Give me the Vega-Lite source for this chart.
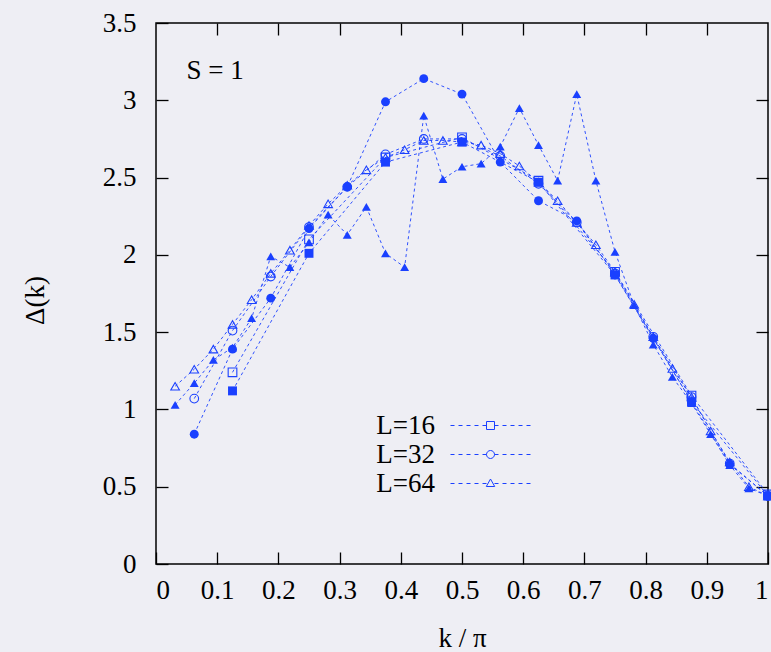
{
  "$schema": "https://vega.github.io/schema/vega-lite/v6.json",
  "width": 612,
  "height": 541,
  "autosize": "none",
  "padding": {"left": 156, "top": 23, "right": 3, "bottom": 88},
  "background": "#eeeef4",
  "config": {
    "view": {"stroke": "black", "strokeWidth": 1.5},
    "font": "Liberation Serif",
    "axis": {
      "labelFont": "Liberation Serif", "titleFont": "Liberation Serif",
      "labelFontSize": 27, "titleFontSize": 27, "titleFontWeight": "normal",
      "labelColor": "black", "titleColor": "black", "tickColor": "black",
      "domain": false, "grid": false, "tickSize": -12, "tickWidth": 1.3
    },
    "legend": {"labelFont": "Liberation Serif", "labelFontSize": 27, "labelColor": "black"}
  },
  "datasets": {
    "pts": [
      {"L": "L=16", "t": "o", "k": 0.125, "d": 1.24},
      {"L": "L=16", "t": "o", "k": 0.25, "d": 2.10},
      {"L": "L=16", "t": "o", "k": 0.375, "d": 2.63},
      {"L": "L=16", "t": "o", "k": 0.5, "d": 2.76},
      {"L": "L=16", "t": "o", "k": 0.625, "d": 2.48},
      {"L": "L=16", "t": "o", "k": 0.75, "d": 1.89},
      {"L": "L=16", "t": "o", "k": 0.875, "d": 1.09},
      {"L": "L=16", "t": "o", "k": 1.0, "d": 0.45},
      {"L": "L=16", "t": "f", "k": 0.125, "d": 1.12},
      {"L": "L=16", "t": "f", "k": 0.25, "d": 2.01},
      {"L": "L=16", "t": "f", "k": 0.375, "d": 2.60},
      {"L": "L=16", "t": "f", "k": 0.5, "d": 2.73},
      {"L": "L=16", "t": "f", "k": 0.625, "d": 2.47},
      {"L": "L=16", "t": "f", "k": 0.75, "d": 1.87},
      {"L": "L=16", "t": "f", "k": 0.875, "d": 1.05},
      {"L": "L=16", "t": "f", "k": 1.0, "d": 0.44},
      {"L": "L=32", "t": "o", "k": 0.0625, "d": 1.07},
      {"L": "L=32", "t": "o", "k": 0.125, "d": 1.51},
      {"L": "L=32", "t": "o", "k": 0.1875, "d": 1.86},
      {"L": "L=32", "t": "o", "k": 0.25, "d": 2.18},
      {"L": "L=32", "t": "o", "k": 0.3125, "d": 2.44},
      {"L": "L=32", "t": "o", "k": 0.375, "d": 2.65},
      {"L": "L=32", "t": "o", "k": 0.4375, "d": 2.75},
      {"L": "L=32", "t": "o", "k": 0.5, "d": 2.75},
      {"L": "L=32", "t": "o", "k": 0.5625, "d": 2.64},
      {"L": "L=32", "t": "o", "k": 0.625, "d": 2.46},
      {"L": "L=32", "t": "o", "k": 0.6875, "d": 2.21},
      {"L": "L=32", "t": "o", "k": 0.75, "d": 1.88},
      {"L": "L=32", "t": "o", "k": 0.8125, "d": 1.47},
      {"L": "L=32", "t": "o", "k": 0.875, "d": 1.08},
      {"L": "L=32", "t": "o", "k": 0.9375, "d": 0.65},
      {"L": "L=32", "t": "o", "k": 1.0, "d": 0.44},
      {"L": "L=32", "t": "f", "k": 0.0625, "d": 0.84},
      {"L": "L=32", "t": "f", "k": 0.125, "d": 1.39},
      {"L": "L=32", "t": "f", "k": 0.1875, "d": 1.72},
      {"L": "L=32", "t": "f", "k": 0.25, "d": 2.17},
      {"L": "L=32", "t": "f", "k": 0.3125, "d": 2.44},
      {"L": "L=32", "t": "f", "k": 0.375, "d": 2.99},
      {"L": "L=32", "t": "f", "k": 0.4375, "d": 3.14},
      {"L": "L=32", "t": "f", "k": 0.5, "d": 3.04},
      {"L": "L=32", "t": "f", "k": 0.5625, "d": 2.60},
      {"L": "L=32", "t": "f", "k": 0.625, "d": 2.35},
      {"L": "L=32", "t": "f", "k": 0.6875, "d": 2.22},
      {"L": "L=32", "t": "f", "k": 0.75, "d": 1.87},
      {"L": "L=32", "t": "f", "k": 0.8125, "d": 1.46},
      {"L": "L=32", "t": "f", "k": 0.875, "d": 1.05},
      {"L": "L=32", "t": "f", "k": 0.9375, "d": 0.645},
      {"L": "L=32", "t": "f", "k": 1.0, "d": 0.44},
      {"L": "L=64", "t": "o", "k": 0.03125, "d": 1.15},
      {"L": "L=64", "t": "o", "k": 0.0625, "d": 1.26},
      {"L": "L=64", "t": "o", "k": 0.09375, "d": 1.39},
      {"L": "L=64", "t": "o", "k": 0.125, "d": 1.55},
      {"L": "L=64", "t": "o", "k": 0.15625, "d": 1.71},
      {"L": "L=64", "t": "o", "k": 0.1875, "d": 1.88},
      {"L": "L=64", "t": "o", "k": 0.21875, "d": 2.03},
      {"L": "L=64", "t": "o", "k": 0.25, "d": 2.19},
      {"L": "L=64", "t": "o", "k": 0.28125, "d": 2.33},
      {"L": "L=64", "t": "o", "k": 0.3125, "d": 2.45},
      {"L": "L=64", "t": "o", "k": 0.34375, "d": 2.55},
      {"L": "L=64", "t": "o", "k": 0.375, "d": 2.63},
      {"L": "L=64", "t": "o", "k": 0.40625, "d": 2.68},
      {"L": "L=64", "t": "o", "k": 0.4375, "d": 2.74},
      {"L": "L=64", "t": "o", "k": 0.46875, "d": 2.74},
      {"L": "L=64", "t": "o", "k": 0.5, "d": 2.73},
      {"L": "L=64", "t": "o", "k": 0.53125, "d": 2.71},
      {"L": "L=64", "t": "o", "k": 0.5625, "d": 2.655},
      {"L": "L=64", "t": "o", "k": 0.59375, "d": 2.575},
      {"L": "L=64", "t": "o", "k": 0.625, "d": 2.47},
      {"L": "L=64", "t": "o", "k": 0.65625, "d": 2.35},
      {"L": "L=64", "t": "o", "k": 0.6875, "d": 2.21},
      {"L": "L=64", "t": "o", "k": 0.71875, "d": 2.065},
      {"L": "L=64", "t": "o", "k": 0.75, "d": 1.89},
      {"L": "L=64", "t": "o", "k": 0.78125, "d": 1.68},
      {"L": "L=64", "t": "o", "k": 0.8125, "d": 1.47},
      {"L": "L=64", "t": "o", "k": 0.84375, "d": 1.265},
      {"L": "L=64", "t": "o", "k": 0.875, "d": 1.08},
      {"L": "L=64", "t": "o", "k": 0.90625, "d": 0.86},
      {"L": "L=64", "t": "o", "k": 0.9375, "d": 0.66},
      {"L": "L=64", "t": "o", "k": 0.96875, "d": 0.50},
      {"L": "L=64", "t": "o", "k": 1.0, "d": 0.44},
      {"L": "L=64", "t": "f", "k": 0.03125, "d": 1.03},
      {"L": "L=64", "t": "f", "k": 0.0625, "d": 1.17},
      {"L": "L=64", "t": "f", "k": 0.09375, "d": 1.32},
      {"L": "L=64", "t": "f", "k": 0.125, "d": 1.40},
      {"L": "L=64", "t": "f", "k": 0.15625, "d": 1.59},
      {"L": "L=64", "t": "f", "k": 0.1875, "d": 1.99},
      {"L": "L=64", "t": "f", "k": 0.21875, "d": 1.92},
      {"L": "L=64", "t": "f", "k": 0.25, "d": 2.08},
      {"L": "L=64", "t": "f", "k": 0.28125, "d": 2.26},
      {"L": "L=64", "t": "f", "k": 0.3125, "d": 2.13},
      {"L": "L=64", "t": "f", "k": 0.34375, "d": 2.31},
      {"L": "L=64", "t": "f", "k": 0.375, "d": 2.01},
      {"L": "L=64", "t": "f", "k": 0.40625, "d": 1.92},
      {"L": "L=64", "t": "f", "k": 0.4375, "d": 2.90},
      {"L": "L=64", "t": "f", "k": 0.46875, "d": 2.49},
      {"L": "L=64", "t": "f", "k": 0.5, "d": 2.57},
      {"L": "L=64", "t": "f", "k": 0.53125, "d": 2.59},
      {"L": "L=64", "t": "f", "k": 0.5625, "d": 2.70},
      {"L": "L=64", "t": "f", "k": 0.59375, "d": 2.95},
      {"L": "L=64", "t": "f", "k": 0.625, "d": 2.71},
      {"L": "L=64", "t": "f", "k": 0.65625, "d": 2.48},
      {"L": "L=64", "t": "f", "k": 0.6875, "d": 3.04},
      {"L": "L=64", "t": "f", "k": 0.71875, "d": 2.48},
      {"L": "L=64", "t": "f", "k": 0.75, "d": 2.02},
      {"L": "L=64", "t": "f", "k": 0.78125, "d": 1.675},
      {"L": "L=64", "t": "f", "k": 0.8125, "d": 1.42},
      {"L": "L=64", "t": "f", "k": 0.84375, "d": 1.21},
      {"L": "L=64", "t": "f", "k": 0.875, "d": 1.04},
      {"L": "L=64", "t": "f", "k": 0.90625, "d": 0.84},
      {"L": "L=64", "t": "f", "k": 0.9375, "d": 0.64},
      {"L": "L=64", "t": "f", "k": 0.96875, "d": 0.49},
      {"L": "L=64", "t": "f", "k": 1.0, "d": 0.44}
    ],
    "note": [{"label": "S = 1"}]
  },
  "data": {"name": "pts"},
  "resolve": {"scale": {"shape": "independent"}, "axis": {"x": "independent", "y": "independent"}},
  "layer": [
    {
      "mark": {"type": "line", "strokeDash": [3, 3], "strokeWidth": 0.9, "color": "#1a40ff"},
      "encoding": {
        "x": {"field": "k", "type": "quantitative", "scale": {"domain": [0, 1], "nice": false},
              "axis": {"orient": "bottom", "values": [0, 0.1, 0.2, 0.3, 0.4, 0.5, 0.6, 0.7, 0.8, 0.9, 1], "format": "~g",
                       "labelPadding": 25, "labelBaseline": "top", "title": "k / π", "titleX": 306, "titleY": 74, "titleBaseline": "middle"}},
        "y": {"field": "d", "type": "quantitative", "scale": {"domain": [0, 3.5], "nice": false},
              "axis": {"orient": "left", "values": [0, 0.5, 1, 1.5, 2, 2.5, 3, 3.5], "format": "~g",
                       "labelPadding": 32, "labelBaseline": "middle", "title": "Δ(k)", "titleX": -121, "titleY": 277,
                       "titleAngle": -90, "titleBaseline": "middle", "titleAlign": "center"}},
        "detail": [{"field": "L"}, {"field": "t"}],
        "order": {"field": "k"}
      }
    },
    {
      "transform": [{"filter": "datum.t == 'o'"}],
      "mark": {"type": "point", "filled": false, "size": 75, "strokeWidth": 1.1, "color": "#1a40ff", "opacity": 1},
      "encoding": {
        "x": {"field": "k", "type": "quantitative", "axis": null},
        "y": {"field": "d", "type": "quantitative", "axis": null},
        "shape": {"field": "L", "type": "nominal",
                  "scale": {"domain": ["L=16", "L=32", "L=64"], "range": ["square", "circle", "triangle-up"]},
                  "legend": null}
      }
    },
    {
      "transform": [{"filter": "datum.t == 'f'"}],
      "mark": {"type": "point", "filled": true, "size": 80, "color": "#1a40ff", "opacity": 1},
      "encoding": {
        "x": {"field": "k", "type": "quantitative", "axis": null},
        "y": {"field": "d", "type": "quantitative", "axis": null},
        "shape": {"field": "L", "type": "nominal",
                  "scale": {"domain": ["L=16", "L=32", "L=64"], "range": ["square", "circle", "triangle-up"]},
                  "legend": null}
      }
    },
    {
      "transform": [{"filter": "datum.t == 'o'"}],
      "mark": {"type": "point", "filled": false, "opacity": 0, "color": "#1a40ff"},
      "encoding": {
        "x": {"field": "k", "type": "quantitative", "axis": null},
        "y": {"field": "d", "type": "quantitative", "axis": null},
        "shape": {"field": "L", "type": "nominal",
                  "scale": {"domain": ["L=16", "L=32", "L=64"],
                            "range": [
                              "M-4,0H-3.6M-3.2,0H-2.8M-2.4,0H-2M-1.6,0H-1.2M-0.8,0H-0.4M-0.4,-0.4H0.4V0.4H-0.4ZM0.4,0H0.8M1.2,0H1.6M2,0H2.4M2.8,0H3.2M3.6,0H4",
                              "M-4,0H-3.6M-3.2,0H-2.8M-2.4,0H-2M-1.6,0H-1.2M-0.8,0H-0.4M0.4,0A0.4,0.4 0 1,1 -0.4,0A0.4,0.4 0 1,1 0.4,0M0.4,0H0.8M1.2,0H1.6M2,0H2.4M2.8,0H3.2M3.6,0H4",
                              "M-4,0H-3.6M-3.2,0H-2.8M-2.4,0H-2M-1.6,0H-1.2M-0.8,0H-0.4M0,-0.45L0.42,0.3L-0.42,0.3ZM0.4,0H0.8M1.2,0H1.6M2,0H2.4M2.8,0H3.2M3.6,0H4"
                            ]},
                  "legend": {"orient": "none", "legendX": 321, "legendY": 389, "title": null,
                             "symbolSize": 400, "labelAlign": "right", "labelOffset": -69, "rowPadding": 1,
                             "symbolOpacity": 1, "symbolStrokeColor": "#1a40ff", "symbolStrokeWidth": 1,
                             "symbolFillColor": "transparent"}}
      }
    },
    {
      "data": {"name": "note"},
      "mark": {"type": "text", "align": "left", "baseline": "middle", "fontSize": 27, "fontWeight": "normal", "font": "Liberation Serif", "color": "black"},
      "encoding": {
        "x": {"datum": 0.05, "type": "quantitative",
              "axis": {"orient": "top", "values": [0.1, 0.2, 0.3, 0.4, 0.5, 0.6, 0.7, 0.8, 0.9], "labels": false, "title": null}},
        "y": {"datum": 3.19, "type": "quantitative",
              "axis": {"orient": "right", "values": [0.5, 1, 1.5, 2, 2.5, 3], "labels": false, "title": null}},
        "text": {"field": "label"}
      }
    }
  ]
}
